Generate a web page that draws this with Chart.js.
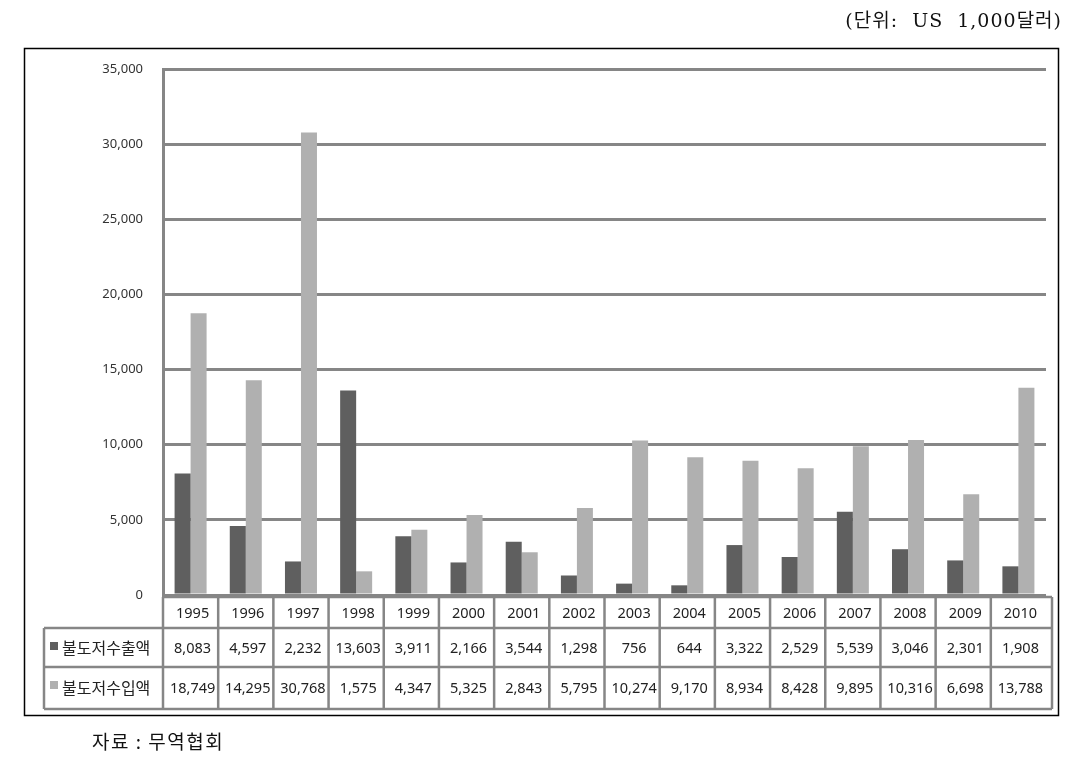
<!DOCTYPE html>
<html>
<head>
<meta charset="utf-8">
<script src="https://cdn.jsdelivr.net/npm/chart.js@4/dist/chart.umd.min.js"></script>
<style>
  html, body { margin: 0; padding: 0; background: #fff; }
  #wrap { position: relative; width: 1081px; height: 758px; }
</style>
</head>
<body>
<div id="wrap"><canvas id="graph" width="1081" height="758"></canvas></div>
<script>
const years = ['1995','1996','1997','1998','1999','2000','2001','2002','2003','2004','2005','2006','2007','2008','2009','2010'];
const exportLabel = '불도저수출액';
const importLabel = '불도저수입액';
const exportValues = [8083, 4597, 2232, 13603, 3911, 2166, 3544, 1298, 756, 644, 3322, 2529, 5539, 3046, 2301, 1908];
const importValues = [18749, 14295, 30768, 1575, 4347, 5325, 2843, 5795, 10274, 9170, 8934, 8428, 9895, 10316, 6698, 13788];
const yTicks = [0, 5000, 10000, 15000, 20000, 25000, 30000, 35000];

const darkColor = '#5f5f5f';
const lightColor = '#b0b0b0';
const lineColor = '#868686';
const numFont = '14.5px "Noto Sans", "DejaVu Sans", sans-serif';
const korFont = '16px "Noto Sans CJK KR", sans-serif';

function fmt(v) {
  return v.toLocaleString('en-US');
}

// 표, 테두리, 주석 그리기
const tablePlugin = {
  id: 'dataTable',
  afterDraw(chart) {
    const c = chart.ctx;
    const area = chart.chartArea;
    const xs = chart.scales.x;
    const colW = (area.right - area.left) / years.length;
    const rowTop = [area.bottom + 2, 628, 667, 709];
    const labelLeft = 44;

    c.save();
    // 바깥 테두리
    c.strokeStyle = '#000';
    c.lineWidth = 1.5;
    c.strokeRect(24.5, 48.5, 1034, 667);

    c.strokeStyle = lineColor;
    c.lineWidth = 2.5;
    // 가로선
    c.beginPath();
    c.moveTo(area.left, rowTop[0]); c.lineTo(area.right + 6, rowTop[0]);
    for (let r = 1; r < rowTop.length; r++) {
      c.moveTo(labelLeft, rowTop[r]); c.lineTo(area.right + 6, rowTop[r]);
    }
    // 세로선
    c.moveTo(labelLeft, rowTop[1]); c.lineTo(labelLeft, rowTop[3]);
    for (let i = 0; i <= years.length; i++) {
      const x = area.left + i * colW + (i === years.length ? 6 : 0);
      c.moveTo(x, rowTop[0]); c.lineTo(x, rowTop[3]);
    }
    c.stroke();

    // 연도, 값
    c.fillStyle = '#222';
    c.textAlign = 'center';
    c.textBaseline = 'middle';
    c.font = numFont;
    years.forEach((y, i) => {
      const x = xs.getPixelForValue(i);
      c.fillText(y, x + 2, (rowTop[0] + rowTop[1]) / 2 + 1);
      c.fillText(fmt(exportValues[i]), x + 2, (rowTop[1] + rowTop[2]) / 2 + 1);
      c.fillText(fmt(importValues[i]), x + 2, (rowTop[2] + rowTop[3]) / 2 + 1);
    });

    // 범례 라벨
    c.textAlign = 'left';
    c.font = korFont;
    c.fillStyle = darkColor;
    c.fillRect(50, 642, 8, 8);
    c.fillStyle = lightColor;
    c.fillRect(50, 681, 8, 8);
    c.fillStyle = '#222';
    c.fillText(exportLabel, 62, (rowTop[1] + rowTop[2]) / 2);
    c.fillText(importLabel, 62, (rowTop[2] + rowTop[3]) / 2);

    // 단위
    c.textAlign = 'right';
    c.font = '19px "DejaVu Serif", "Liberation Serif", "Noto Sans CJK KR", serif';
    c.fillStyle = '#111';
    c.letterSpacing = '1px';
    c.fillText('(단위:  US  1,000달러)', 1062, 22);

    // 자료
    c.textAlign = 'left';
    c.font = '19px "Noto Sans CJK KR", sans-serif';
    c.letterSpacing = '1.5px';
    c.fillText('자료 : 무역협회', 92, 742);
    c.restore();
  }
};

const ctx = document.getElementById('graph').getContext('2d');
const chart = new Chart(ctx, {
  type: 'bar',
  data: {
    labels: years,
    datasets: [{
      label: exportLabel,
      data: exportValues,
      backgroundColor: darkColor,
      barPercentage: 1,
      categoryPercentage: 0.58
    }, {
      label: importLabel,
      data: importValues,
      backgroundColor: lightColor,
      barPercentage: 1,
      categoryPercentage: 0.58
    }]
  },
  options: {
    responsive: false,
    animation: false,
    layout: { padding: { top: 69, bottom: 163, right: 35, left: 0 } },
    plugins: { legend: { display: false }, tooltip: { enabled: false } },
    scales: {
      x: { display: false },
      y: {
        min: 0, max: 35000,
        afterFit(scale) { scale.width = 163; },
        afterBuildTicks(scale) { scale.ticks = yTicks.map(v => ({ value: v })); },
        grid: { color: lineColor, lineWidth: 3, drawTicks: false },
        border: { display: true, color: lineColor, width: 3 },
        ticks: {
          padding: 20,
          color: '#333',
          font: { family: '"Noto Sans", "DejaVu Sans", sans-serif', size: 13 },
          callback: v => fmt(v)
        }
      }
    }
  },
  plugins: [tablePlugin]
});
</script>
</body>
</html>
